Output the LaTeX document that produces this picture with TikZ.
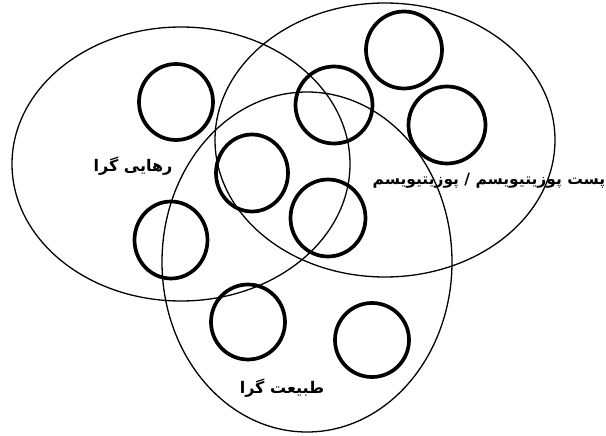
\documentclass[tikz,border=0pt]{standalone}
\usepackage{fontspec}
\newfontfamily\arabicfont[Script=Arabic]{DejaVu Sans}
\TeXXeTstate=1
\usetikzlibrary{shapes.geometric}
\begin{document}
\begin{tikzpicture}[x=1pt,y=-1pt,
  bigell/.style={draw, ellipse, line width=1.3pt, inner sep=0pt, outer sep=0pt},
  ring/.style={draw, ellipse, line width=3.7pt, inner sep=0pt, outer sep=0pt},
  lab/.style={font=\arabicfont\bfseries\fontsize{16}{18}\selectfont, inner sep=0pt}]
\useasboundingbox (0,0) rectangle (606,436);
% large sets
\node[bigell, minimum width=338pt, minimum height=274pt] (E1) at (181,164) {};
\node[bigell, minimum width=340pt, minimum height=274pt] (E2) at (385,140) {};
\node[bigell, minimum width=290pt, minimum height=340pt] (E3) at (307,262) {};
% small circles
\node[ring, minimum width=74pt, minimum height=76pt] (c1) at (176,102) {};
\node[ring, minimum width=77pt, minimum height=77pt] (c2) at (334,105) {};
\node[ring, minimum width=72pt, minimum height=77pt] (c3) at (252,173) {};
\node[ring, minimum width=75pt, minimum height=77pt] (c4) at (328,218) {};
\node[ring, minimum width=76pt, minimum height=77pt] (c5) at (404,50) {};
\node[ring, minimum width=77pt, minimum height=77pt] (c6) at (447,125) {};
\node[ring, minimum width=73pt, minimum height=77pt] (c7) at (171,240) {};
\node[ring, minimum width=74pt, minimum height=75pt] (c8) at (248,322) {};
\node[ring, minimum width=74pt, minimum height=74pt] (c9) at (372,340) {};
% labels
\node[lab] (L1) at (133,166) {\beginR رهایی گرا\endR};
\node[lab, font=\arabicfont\bfseries\fontsize{15.5}{18}\selectfont] (L2) at (489,181) {\beginR پست پوزیتیویسم / پوزیتیویسم\endR};
\node[lab] (L3) at (282,388) {\beginR طبیعت گرا\endR};
\end{tikzpicture}
\end{document}
